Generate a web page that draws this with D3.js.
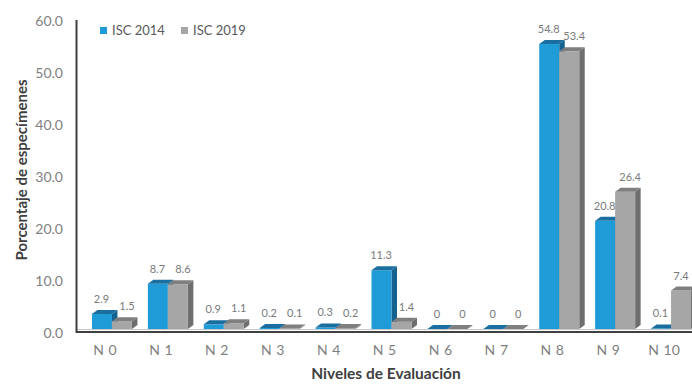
<!DOCTYPE html>
<html>
<head>
<meta charset="utf-8">
<script src="https://cdn.jsdelivr.net/npm/d3@7"></script>
<style>
  html, body { margin: 0; padding: 0; background: #ffffff; }
  svg { display: block; }
  text { font-family: Lato, "Open Sans", sans-serif; }
</style>
</head>
<body>
<div id="chart"></div>
<script>
const categories = ["N 0", "N 1", "N 2", "N 3", "N 4", "N 5", "N 6", "N 7", "N 8", "N 9", "N 10"];
const isc2014 = [2.9, 8.7, 0.9, 0.2, 0.3, 11.3, 0, 0, 54.8, 20.8, 0.1];
const isc2019 = [1.5, 8.6, 1.1, 0.1, 0.2, 1.4, 0, 0, 53.4, 26.4, 7.4];
const seriesNames = ["ISC 2014", "ISC 2019"];
const yTicks = [0, 10, 20, 30, 40, 50, 60];
const yTitle = "Porcentaje de especímenes";
const xTitle = "Niveles de Evaluación";

const W = 692, H = 384;
const svg = d3.select("#chart").append("svg").attr("width", W).attr("height", H);

const x = d3.scaleBand().domain(categories).range([77, 692]).padding(0);
const y = d3.scaleLinear().domain([0, 60]).range([333, 21]);

const DX = 5.5, DY = 4;   // 3D depth offset
const BW = 20;
const series = [
  { name: seriesNames[0], values: isc2014, front: "#1f9bd7", top: "#1a6fa0", side: "#15628e", off: -13, lab: -3.5 },
  { name: seriesNames[1], values: isc2019, front: "#a6a6a6", top: "#7f7f7f", side: "#6e6e6e", off: 7, lab: 22 }
];

// floor edge line
svg.append("line").attr("x1", 77).attr("x2", 692).attr("y1", 329.5).attr("y2", 329.5)
  .attr("stroke", "#c8c8c8").attr("stroke-width", 1);

// bars
const gBars = svg.append("g");
categories.forEach((c, i) => {
  const cx = x(c) + x.bandwidth() / 2;
  series.forEach(s => {
    const v = s.values[i];
    const x0 = cx + s.off, x1 = x0 + BW;
    const base = y(0) - DY;
    const t = y(v) - DY;
    gBars.append("path")
      .attr("d", `M${x1},${t}L${x1 + DX},${t - DY}L${x1 + DX},${base - DY}L${x1},${base}Z`)
      .attr("fill", s.side);
    if (base - t > 0) {
      gBars.append("rect").attr("x", x0).attr("y", t).attr("width", BW).attr("height", base - t)
        .attr("fill", s.front);
    }
    gBars.append("path")
      .attr("d", `M${x0},${t}L${x0 + DX},${t - DY}L${x1 + DX},${t - DY}L${x1},${t}Z`)
      .attr("fill", s.top);
  });
});

// data labels
categories.forEach((c, i) => {
  const cx = x(c) + x.bandwidth() / 2;
  series.forEach(s => {
    const v = s.values[i];
    const t = svg.append("text")
      .attr("x", cx + s.lab)
      .attr("y", y(v) - DY - 11)
      .attr("text-anchor", "middle")
      .attr("font-size", 11)
      .attr("fill", "#7a7a7a")
      .text(String(v));
    const bb = t.node().getBBox();
    if (bb.x + bb.width > W - 3) t.attr("x", W - 3 - bb.width / 2);
  });
});

// axes lines
svg.append("line").attr("x1", 76.5).attr("x2", 76.5).attr("y1", 20).attr("y2", 333)
  .attr("stroke", "#404040").attr("stroke-width", 2);
svg.append("line").attr("x1", 76).attr("x2", 692).attr("y1", 332).attr("y2", 332)
  .attr("stroke", "#404040").attr("stroke-width", 2);

// y axis labels
const yAxis = d3.axisLeft(y).tickValues(yTicks).tickFormat(d3.format(".1f")).tickSize(0).tickPadding(0);
const gy = svg.append("g").attr("transform", "translate(63,0)").call(yAxis);
gy.select(".domain").remove();
gy.selectAll("text").attr("font-size", 14).attr("fill", "#7f7f7f").attr("font-family", "Lato, sans-serif");

// x axis labels
const xAxis = d3.axisBottom(x).tickSize(0).tickPadding(0);
const gx = svg.append("g").attr("transform", "translate(0,345)").call(xAxis);
gx.select(".domain").remove();
gx.selectAll("text").attr("font-size", 14).attr("fill", "#7f7f7f").attr("font-family", "Lato, sans-serif")
  .attr("word-spacing", "1px");

// titles
svg.append("text").attr("transform", "translate(27,170) rotate(-90)")
  .attr("text-anchor", "middle").attr("font-size", 15).attr("font-weight", "bold")
  .attr("fill", "#404040").text(yTitle);
svg.append("text").attr("x", 386).attr("y", 379)
  .attr("text-anchor", "middle").attr("font-size", 15.5).attr("font-weight", "bold")
  .attr("fill", "#404040").text(xTitle);

// legend
const legendX = [100, 181];
series.forEach((s, i) => {
  svg.append("rect").attr("x", legendX[i]).attr("y", 27).attr("width", 7).attr("height", 7).attr("fill", s.front);
  svg.append("text").attr("x", legendX[i] + 12).attr("y", 35).attr("font-size", 13)
    .attr("fill", "#595959").text(s.name);
});
</script>
</body>
</html>
